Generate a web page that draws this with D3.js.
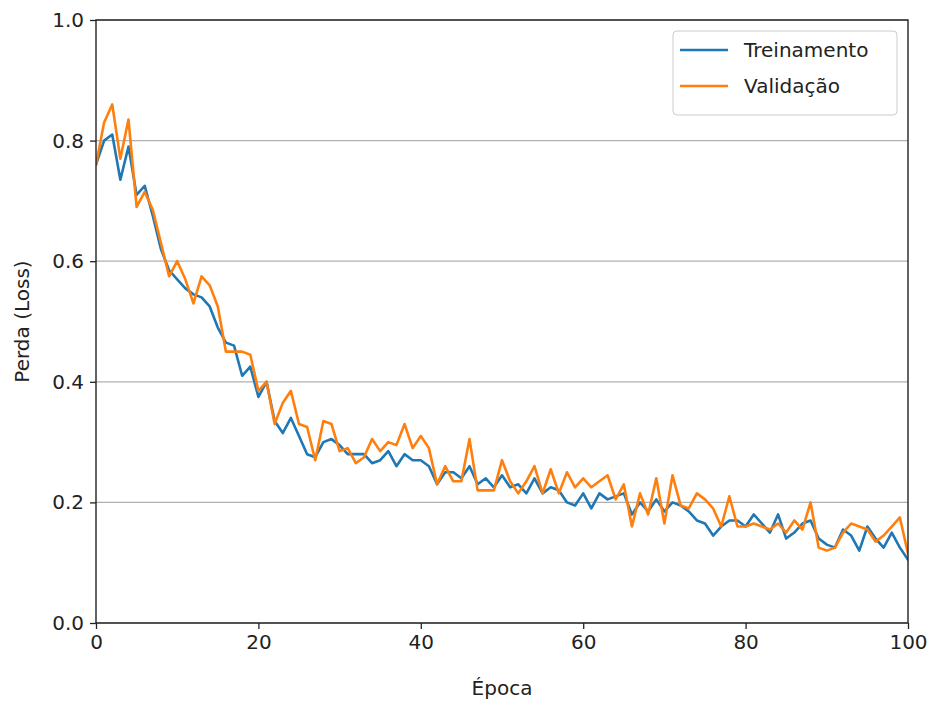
<!DOCTYPE html>
<html>
<head>
<meta charset="utf-8">
<script src="https://cdn.jsdelivr.net/npm/d3@7"></script>
<style>
  body { margin: 0; background: #fff; }
  svg { font-family: "DejaVu Sans", sans-serif; }
</style>
</head>
<body>
<svg id="chart"></svg>
<script>
var width = 934, height = 702

// loss per epoch
var treinamento = [
    0.76, 0.80, 0.81, 0.735, 0.79, 0.71, 0.725, 0.675, 0.62, 0.585,
    0.57, 0.555, 0.545, 0.54, 0.525, 0.49, 0.465, 0.46, 0.41, 0.425,
    0.375, 0.40, 0.335, 0.315, 0.34, 0.31, 0.28, 0.275, 0.30, 0.305,
    0.295, 0.28, 0.28, 0.28, 0.265, 0.27, 0.285, 0.26, 0.28, 0.27,
    0.27, 0.26, 0.23, 0.25, 0.25, 0.24, 0.26, 0.23, 0.24, 0.225,
    0.245, 0.225, 0.23, 0.215, 0.24, 0.215, 0.225, 0.22, 0.20, 0.195,
    0.215, 0.19, 0.215, 0.205, 0.21, 0.215, 0.18, 0.20, 0.185, 0.205,
    0.185, 0.20, 0.195, 0.185, 0.17, 0.165, 0.145, 0.16, 0.17, 0.17,
    0.16, 0.18, 0.165, 0.15, 0.18, 0.14, 0.15, 0.165, 0.17, 0.14,
    0.13, 0.125, 0.155, 0.145, 0.12, 0.16, 0.14, 0.125, 0.15, 0.125,
    0.105
]
var validacao = [
    0.76, 0.83, 0.86, 0.77, 0.835, 0.69, 0.715, 0.685, 0.63, 0.575,
    0.60, 0.57, 0.53, 0.575, 0.56, 0.525, 0.45, 0.45, 0.45, 0.445,
    0.385, 0.40, 0.33, 0.365, 0.385, 0.33, 0.325, 0.27, 0.335, 0.33,
    0.285, 0.29, 0.265, 0.275, 0.305, 0.285, 0.30, 0.295, 0.33, 0.29,
    0.31, 0.29, 0.23, 0.26, 0.235, 0.235, 0.305, 0.22, 0.22, 0.22,
    0.27, 0.235, 0.215, 0.235, 0.26, 0.215, 0.255, 0.215, 0.25, 0.225,
    0.24, 0.225, 0.235, 0.245, 0.205, 0.23, 0.16, 0.215, 0.18, 0.24,
    0.165, 0.245, 0.195, 0.19, 0.215, 0.205, 0.19, 0.16, 0.21, 0.16,
    0.16, 0.165, 0.16, 0.155, 0.165, 0.15, 0.17, 0.155, 0.20, 0.125,
    0.12, 0.125, 0.15, 0.165, 0.16, 0.155, 0.135, 0.145, 0.16, 0.175,
    0.115
]
var xTicks = [0, 20, 40, 60, 80, 100]
var yTicks = [0, 0.2, 0.4, 0.6, 0.8, 1.0]
var series = [
    {name: "Treinamento", values: treinamento, color: "#1f77b4"},
    {name: "Validação", values: validacao, color: "#ff7f0e"}
]

var margin = {top: 20, right: 26, bottom: 79, left: 96}

var svg = d3.select("#chart")
    .attr("width", width)
    .attr("height", height)

var x = d3.scaleLinear()
    .domain([0, 100])
    .range([margin.left, width - margin.right])
var y = d3.scaleLinear()
    .domain([0, 1])
    .range([height - margin.bottom, margin.top])

// grid
svg.append("g")
    .selectAll("line")
    .data(yTicks)
    .enter()
    .append("line")
        .attr("x1", x(0))
        .attr("x2", x(100))
        .attr("y1", function(d) { return y(d) })
        .attr("y2", function(d) { return y(d) })
        .attr("stroke", "#b0b0b0")
        .attr("stroke-width", 1.3)

var line = d3.line()
    .x(function(d, i) { return x(i) })
    .y(function(d) { return y(d) })

var clip = svg.append("clipPath").attr("id", "clip")
    .append("rect")
    .attr("x", x(0)).attr("y", y(1))
    .attr("width", x(100) - x(0)).attr("height", y(0) - y(1))

svg.append("g")
    .attr("clip-path", "url(#clip)")
    .selectAll("path")
    .data(series)
    .enter()
    .append("path")
        .attr("d", function(d) { return line(d.values) })
        .attr("fill", "none")
        .attr("stroke", function(d) { return d.color })
        .attr("stroke-width", 2.6)
        .attr("stroke-linejoin", "round")
        .attr("stroke-linecap", "square")

// axes
var xAxis = svg.append("g")
    .attr("transform", "translate(0," + y(0) + ")")
    .call(d3.axisBottom(x).tickValues(xTicks).tickSize(6).tickPadding(6))
var yAxis = svg.append("g")
    .attr("transform", "translate(" + x(0) + ",0)")
    .call(d3.axisLeft(y).tickValues(yTicks).tickFormat(d3.format(".1f")).tickSize(6).tickPadding(6))

svg.selectAll(".tick text")
    .attr("font-size", 20)
    .attr("font-family", "DejaVu Sans")
    .attr("fill", "#222")
svg.selectAll(".tick line").attr("stroke", "#222").attr("stroke-width", 1.3)
svg.selectAll(".domain").remove()

// frame
svg.append("rect")
    .attr("x", x(0)).attr("y", y(1))
    .attr("width", x(100) - x(0)).attr("height", y(0) - y(1))
    .attr("fill", "none")
    .attr("stroke", "#222")
    .attr("stroke-width", 1.4)

svg.append("text")
    .attr("x", (x(0) + x(100)) / 2)
    .attr("y", 695)
    .attr("text-anchor", "middle")
    .attr("font-size", 20)
    .attr("fill", "#222")
    .text("Época")

svg.append("text")
    .attr("transform", "translate(29," + (y(0) + y(1)) / 2 + ") rotate(-90)")
    .attr("text-anchor", "middle")
    .attr("font-size", 20)
    .attr("fill", "#222")
    .text("Perda (Loss)")

// legend
var legend = svg.append("g")
legend.append("rect")
    .attr("x", 673).attr("y", 31)
    .attr("width", 224).attr("height", 84)
    .attr("rx", 4)
    .attr("fill", "white")
    .attr("fill-opacity", 0.8)
    .attr("stroke", "#ccc")

var items = legend.selectAll("g.item")
    .data(series)
    .enter()
    .append("g")
        .attr("class", "item")
        .attr("transform", function(d, i) { return "translate(680," + (50 + i * 36) + ")" })
items.append("line")
    .attr("x1", 0).attr("x2", 48)
    .attr("stroke", function(d) { return d.color })
    .attr("stroke-width", 2.6)
items.append("text")
    .attr("x", 64)
    .attr("dy", "0.35em")
    .attr("font-size", 20)
    .attr("fill", "#222")
    .text(function(d) { return d.name })
</script>
</body>
</html>
